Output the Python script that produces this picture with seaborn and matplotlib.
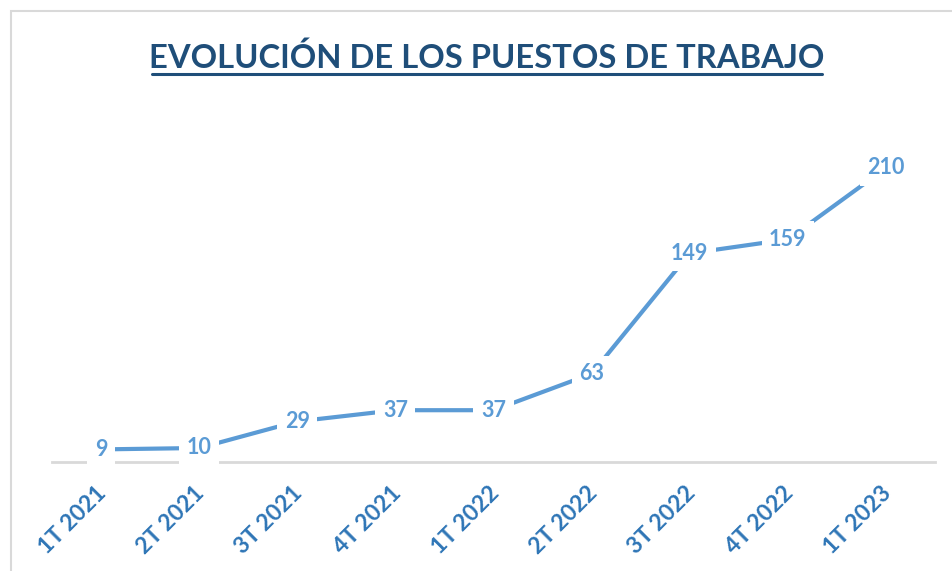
import matplotlib
matplotlib.use("Agg")
import matplotlib.pyplot as plt
import seaborn as sns
import pandas as pd
from matplotlib.patches import Rectangle
from matplotlib.lines import Line2D

categories = ["1T 2021", "2T 2021", "3T 2021", "4T 2021", "1T 2022",
              "2T 2022", "3T 2022", "4T 2022", "1T 2023"]
values = [9, 10, 29, 37, 37, 63, 149, 159, 210]
title = "EVOLUCIÓN DE LOS PUESTOS DE TRABAJO"

df = pd.DataFrame({"periodo": categories, "puestos": values})

sns.set_theme(style="white")
plt.rcParams['font.family'] = ['Lato', 'DejaVu Sans']

W, H = 953, 571
fig = plt.figure(figsize=(W / 100, H / 100), dpi=100)
ax = fig.add_axes([52 / W, (H - 462) / H, (935 - 52) / W, (462 - 112) / H])

line_color = "#5B9BD5"
sns.lineplot(data=df, x="periodo", y="puestos", ax=ax, color=line_color,
             linewidth=3.0, sort=False, zorder=2)

ax.set_xlim(-0.5, len(categories) - 0.5)
ax.set_ylim(0, 250)
ax.set_xlabel("")
ax.set_ylabel("")
ax.set_yticks([])
for s in ["left", "right", "top"]:
    ax.spines[s].set_visible(False)
ax.spines["bottom"].set_color("#D9D9D9")
ax.spines["bottom"].set_linewidth(2)
ax.spines["bottom"].set_zorder(1)
ax.tick_params(axis="x", length=0, pad=20)
ax.set_xticks(range(len(categories)))
ax.set_xticklabels(categories, rotation=45, ha="right", va="center",
                   rotation_mode="anchor", fontsize=16.5, fontweight="bold",
                   color="#2E75B6")
for lbl in ax.get_xticklabels():
    lbl.set_transform(lbl.get_transform() + matplotlib.transforms.ScaledTranslation(0.02, 0, fig.dpi_scale_trans))

for i, v in enumerate(values):
    ax.text(i, v, str(v), ha="center", va="center", fontsize=15.5,
            fontweight="bold", color=line_color, zorder=5,
            bbox=dict(boxstyle="square,pad=0.35", fc="white", ec="none"))

# title with underline
fig.text(487 / W, (H - 58) / H, title, ha="center", va="center",
         fontsize=23.6, fontweight="bold", color="#1F4E79")
fig.add_artist(Line2D([152 / W, 822 / W], [(H - 74) / H, (H - 74) / H],
                      color="#1F4E79", linewidth=2.2, transform=fig.transFigure))

# chart border
fig.add_artist(Rectangle((11 / W, -0.1), 1.2, (H - 11) / H + 0.1,
                         transform=fig.transFigure, fill=False,
                         edgecolor="#D9D9D9", linewidth=1.5))

fig.savefig("out.png", dpi=100)
